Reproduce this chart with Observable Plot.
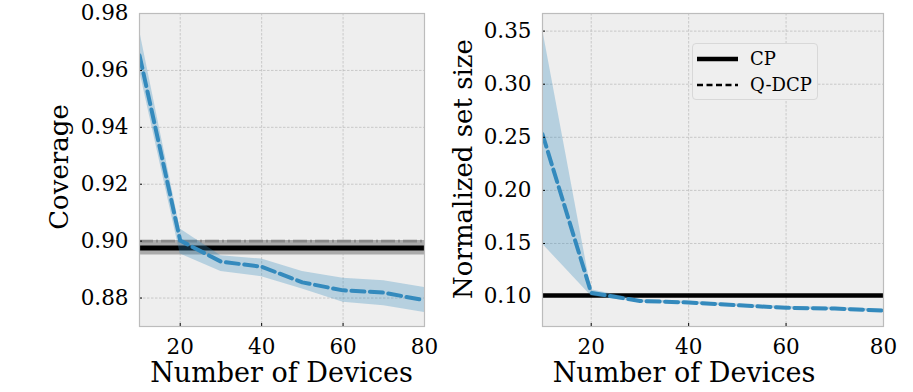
<!DOCTYPE html>
<html>
<head>
<meta charset="utf-8">
<script src="https://cdn.jsdelivr.net/npm/d3@7"></script>
<script src="https://cdn.jsdelivr.net/npm/@observablehq/plot@0.6"></script>
<style>
  html, body { margin: 0; padding: 0; background: #fff; }
  #wrap { position: relative; width: 913px; height: 392px; font-family: "DejaVu Serif", serif; }
  .panel { position: absolute; top: 0; }
  .lbl { position: absolute; font-family: "DejaVu Serif", serif; font-size: 26px; color: #000; white-space: nowrap; line-height: 1; }
  .legend { position: absolute; left: 692px; top: 43px; width: 126px; height: 57px; box-sizing: border-box;
            border: 1px solid #d8d8d8; border-radius: 4px; background: #efefef; }
  .legend .row { position: absolute; left: 0; font-size: 18px; line-height: 1; font-family: "DejaVu Serif", serif; }
</style>
</head>
<body>
<div id="wrap"></div>
<script>
// ---- data ----
const devices = [10, 20, 30, 40, 50, 60, 70, 80];
const xTicks = [20, 40, 60, 80];

// left panel: coverage
const covQ   = [0.9653, 0.9002, 0.8928, 0.8910, 0.8855, 0.8827, 0.8819, 0.8792];
const covQLo = [0.9600, 0.8955, 0.8893, 0.8875, 0.8832, 0.8785, 0.8773, 0.8749];
const covQHi = [0.9741, 0.9043, 0.8949, 0.8937, 0.8893, 0.8870, 0.8861, 0.8837];
const covCP = 0.8976;
const covCPLo = 0.8951;
const covCPHi = 0.9002;
const covTarget = 0.90;
const covTicks = [0.88, 0.90, 0.92, 0.94, 0.96, 0.98];

// right panel: normalized set size
const sizeQ   = [0.2529, 0.1035, 0.0958, 0.0944, 0.0918, 0.0894, 0.0887, 0.0868];
const sizeQLo = [0.1495, 0.1005, 0.0945, 0.0932, 0.0906, 0.0882, 0.0875, 0.0856];
const sizeQHi = [0.3520, 0.1065, 0.0971, 0.0956, 0.0930, 0.0906, 0.0899, 0.0880];
const sizeCP = 0.101;
const sizeTicks = [0.10, 0.15, 0.20, 0.25, 0.30, 0.35];

const legendLabels = ["CP", "Q-DCP"];

const BLUE = "#348ABD";
const fmt = d3.format(".2f");

function panel({width, marginLeft, marginRight, yDomain, yTicks, q, qLo, qHi, extra}) {
  const H = 392, mTop = 13, mBottom = 66;
  const plotH = H - mTop - mBottom;
  const plotW = width - marginLeft - marginRight;
  const rows = devices.map((x, i) => ({x, y: q[i], lo: qLo[i], hi: qHi[i]}));
  return Plot.plot({
    width, height: H,
    marginLeft, marginRight, marginTop: mTop, marginBottom: mBottom,
    style: {fontFamily: "DejaVu Serif, serif", fontSize: "21.5px", background: "transparent", color: "#000"},
    x: {domain: [10, 80]},
    y: {domain: yDomain},
    marks: [
      Plot.frame({fill: "#eeeeee", stroke: null}),
      Plot.gridX(xTicks, {stroke: "#b8b8b8", strokeOpacity: 1, strokeWidth: 0.7, strokeDasharray: "2.5,1.5"}),
      Plot.gridY(yTicks, {stroke: "#b8b8b8", strokeOpacity: 1, strokeWidth: 0.7, strokeDasharray: "2.5,1.5"}),
      ...extra,
      Plot.areaY(rows, {x: "x", y1: "lo", y2: "hi", fill: BLUE, fillOpacity: 0.3, clip: true}),
      Plot.lineY(rows, {x: "x", y: "y", stroke: BLUE, strokeWidth: 4, strokeDasharray: "13,5.5", clip: true}),
      Plot.tickX(xTicks, {x: d => d, insetTop: plotH - 3, stroke: "#000", strokeWidth: 1}),
      Plot.tickY(yTicks, {y: d => d, insetRight: plotW - 3, stroke: "#000", strokeWidth: 1}),
      Plot.frame({stroke: "#bcbcbc", strokeWidth: 1.2}),
      Plot.axisX(xTicks, {tickSize: 0, tickPadding: 12, label: null, fontSize: 21.5}),
      Plot.axisY(yTicks, {tickSize: 0, tickPadding: 11, label: null, tickFormat: fmt, fontSize: 21.5})
    ]
  });
}

const wrap = document.getElementById("wrap");

// Left panel
const left = panel({
  width: 456, marginLeft: 139, marginRight: 32,
  yDomain: [0.87, 0.98], yTicks: covTicks,
  q: covQ, qLo: covQLo, qHi: covQHi,
  extra: [
    Plot.areaY(devices, {x: d => d, y1: () => covCPLo, y2: () => covCPHi, fill: "#aaaaaa", fillOpacity: 1}),
    Plot.ruleY([covCP], {stroke: "#000", strokeWidth: 5}),
    Plot.ruleY([covTarget], {stroke: "#888888", strokeWidth: 2.6, strokeDasharray: "14,3,2,3"})
  ]
});
left.classList.add("panel");
left.style.left = "0px";
wrap.appendChild(left);

// Right panel
const right = panel({
  width: 457, marginLeft: 86, marginRight: 30,
  yDomain: [0.0718, 0.3666], yTicks: sizeTicks,
  q: sizeQ, qLo: sizeQLo, qHi: sizeQHi,
  extra: [
    Plot.ruleY([sizeCP], {stroke: "#000", strokeWidth: 4.6})
  ]
});
right.classList.add("panel");
right.style.left = "456px";
wrap.appendChild(right);

// Axis titles
function addLabel(text, x, y, rotate, size) {
  const d = document.createElement("div");
  d.className = "lbl";
  d.textContent = text;
  d.style.left = x + "px";
  d.style.top = y + "px";
  if (size) d.style.fontSize = size + "px";
  d.style.transform = "translate(-50%, -50%)" + (rotate ? " rotate(-90deg)" : "");
  wrap.appendChild(d);
}
addLabel("Coverage", 59, 167, true);
addLabel("Number of Devices", 281.5, 372, false, 27);
addLabel("Normalized set size", 463, 169, true);
addLabel("Number of Devices", 684, 372, false, 27);

// Legend
const lg = document.createElement("div");
lg.className = "legend";
const styles = [{w: 4.5, dash: null}, {w: 2.6, dash: "6,3.5"}];
legendLabels.forEach((name, i) => {
  const row = document.createElement("div");
  row.className = "row";
  row.style.top = (i === 0 ? 4 : 30) + "px";
  row.style.width = "124px";
  row.style.height = "24px";
  const s = styles[i];
  row.innerHTML =
    `<svg width="50" height="24" style="position:absolute;left:0;top:0">` +
    `<line x1="4" x2="45" y1="11" y2="11" stroke="#000" stroke-width="${s.w}" ${s.dash ? `stroke-dasharray="${s.dash}"` : ""}/></svg>` +
    `<span style="position:absolute;left:57px;top:2px">${name}</span>`;
  lg.appendChild(row);
});
wrap.appendChild(lg);
</script>
</body>
</html>
